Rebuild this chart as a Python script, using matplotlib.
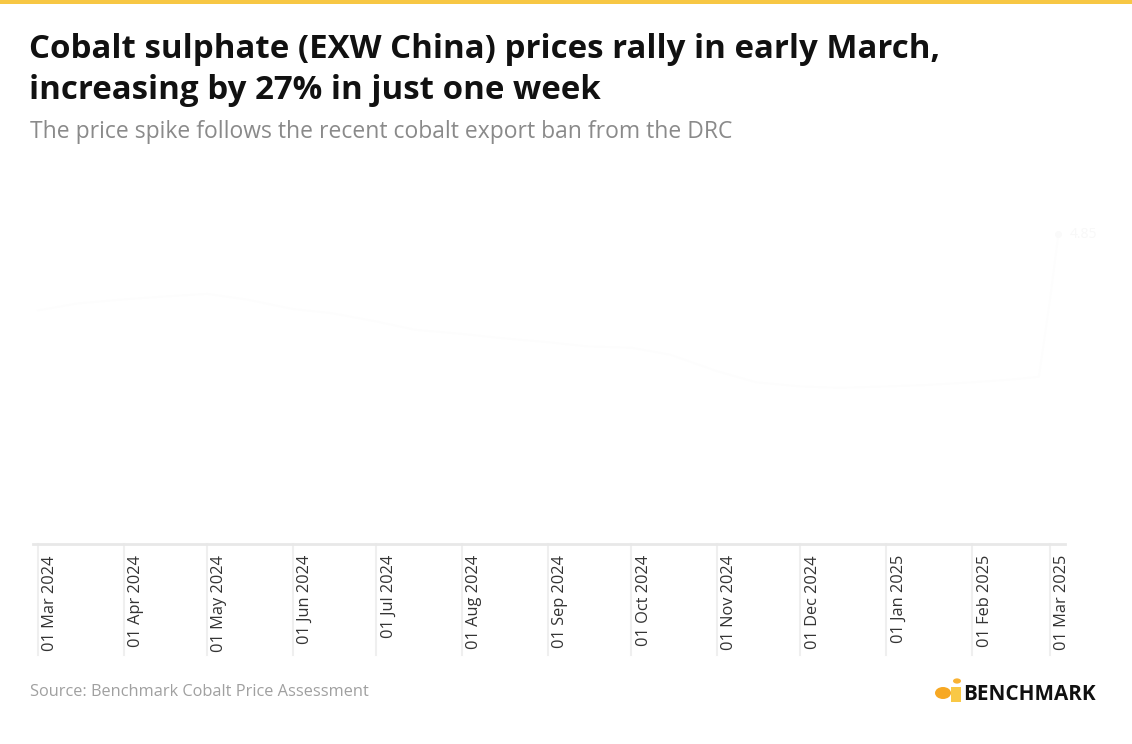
import matplotlib.pyplot as plt
import matplotlib.dates as mdates
from matplotlib.patches import Rectangle, Circle, Ellipse
import pandas as pd

# Cobalt sulphate EXW China, $/kg (line drawn near-white)
dates = ['2024-03-01', '2024-03-15', '2024-04-01', '2024-04-15', '2024-05-01',
         '2024-05-15', '2024-06-01', '2024-06-15', '2024-07-01', '2024-07-15',
         '2024-08-01', '2024-08-15', '2024-09-01', '2024-09-15', '2024-10-01',
         '2024-10-15', '2024-11-01', '2024-11-15', '2024-12-01', '2024-12-15',
         '2025-01-01', '2025-01-15', '2025-02-01', '2025-02-15', '2025-02-25',
         '2025-03-01', '2025-03-04']
prices = [4.30, 4.35, 4.38, 4.40, 4.42, 4.38, 4.31, 4.28, 4.22, 4.16,
          4.13, 4.10, 4.07, 4.04, 4.03, 3.98, 3.86, 3.78, 3.75, 3.74,
          3.75, 3.76, 3.78, 3.80, 3.82, 4.38, 4.85]
tick_dates = pd.date_range('2024-03-01', '2025-03-01', freq='MS')
end_label = '4.85'

title = ('Cobalt sulphate (EXW China) prices rally in early March,\n'
         'increasing by 27% in just one week')
subtitle = 'The price spike follows the recent cobalt export ban from the DRC'
source = 'Source: Benchmark Cobalt Price Assessment'

W, H = 1132, 744
fig = plt.figure(figsize=(W / 100, H / 100), dpi=100)
fig.patch.set_facecolor('white')

# top yellow band
fig.add_artist(Rectangle((0, 1 - 4 / H), 1, 4 / H, transform=fig.transFigure,
                         color='#F7C744', lw=0))

fig.text(29 / W, 1 - 70 / H, title, fontsize=23.8, fontweight='bold', family='Open Sans',
         color='#111111', va='center', ha='left', linespacing=1.3)
fig.text(30 / W, 1 - 132 / H, subtitle, fontsize=16.5, family='Open Sans',
         color='#8a8a8a', va='center', ha='left')
fig.text(30 / W, 1 - 692 / H, source, fontsize=11.8, family='Open Sans',
         color='#a0a0a0', va='center', ha='left')

# axes
left, right, bottom, top = 33, 1065, 544, 175
ax = fig.add_axes([left / W, 1 - bottom / H, (right - left) / W, (bottom - top) / H])
x = pd.to_datetime(dates)
ax.plot(x, prices, color='#fdfdfd', lw=1.3)
ax.plot(x[-1], prices[-1], 'o', color='#fafafa', ms=4)
ax.annotate(end_label, (x[-1], prices[-1]), xytext=(8, 0), textcoords='offset points',
            va='center', fontsize=10, color='#f8f8f8', family='Open Sans')

ax.set_xlim(pd.Timestamp('2024-03-01') - pd.Timedelta(days=1.8),
            pd.Timestamp('2025-03-01') + pd.Timedelta(days=5.4))
ax.set_ylim(2.61, 5.28)
for s in ['top', 'right', 'left']:
    ax.spines[s].set_visible(False)
ax.spines['bottom'].set_color('#e8e8e8')
ax.spines['bottom'].set_linewidth(2)
ax.set_yticks([])
ax.set_xticks(tick_dates)
ax.tick_params(axis='x', length=0, labelbottom=False)

trans = ax.get_xaxis_transform()
for d in tick_dates:
    ax.plot([d, d], [0, -111 / (bottom - top)], transform=trans, color='#efefef',
            lw=1.5, clip_on=False)
    ax.annotate(d.strftime('%d %b %Y'), (mdates.date2num(d), 0), xycoords=trans,
                xytext=(3, -8), textcoords='offset points', rotation=90,
                ha='left', va='top', fontsize=11.8, color='#333333', family='Open Sans')

# Benchmark logo
fig.add_artist(Circle((957 / W, 1 - 681 / H), 4 / W, transform=fig.transFigure,
                      color='#F9B233', lw=0))
fig.add_artist(Ellipse((943 / W, 1 - 693 / H), 16 / W, 12 / H, transform=fig.transFigure,
                       color='#F7A823', lw=0))
fig.add_artist(Rectangle((951 / W, 1 - 702 / H), 10 / W, 15 / H, transform=fig.transFigure,
                         color='#F9C846', lw=0))
fig.text(963 / W, 1 - 695 / H, 'BENCHMARK', fontsize=14.9, fontweight='bold',
         family='Open Sans', color='#111111', va='center', ha='left')

plt.savefig('out.png', dpi=100)
